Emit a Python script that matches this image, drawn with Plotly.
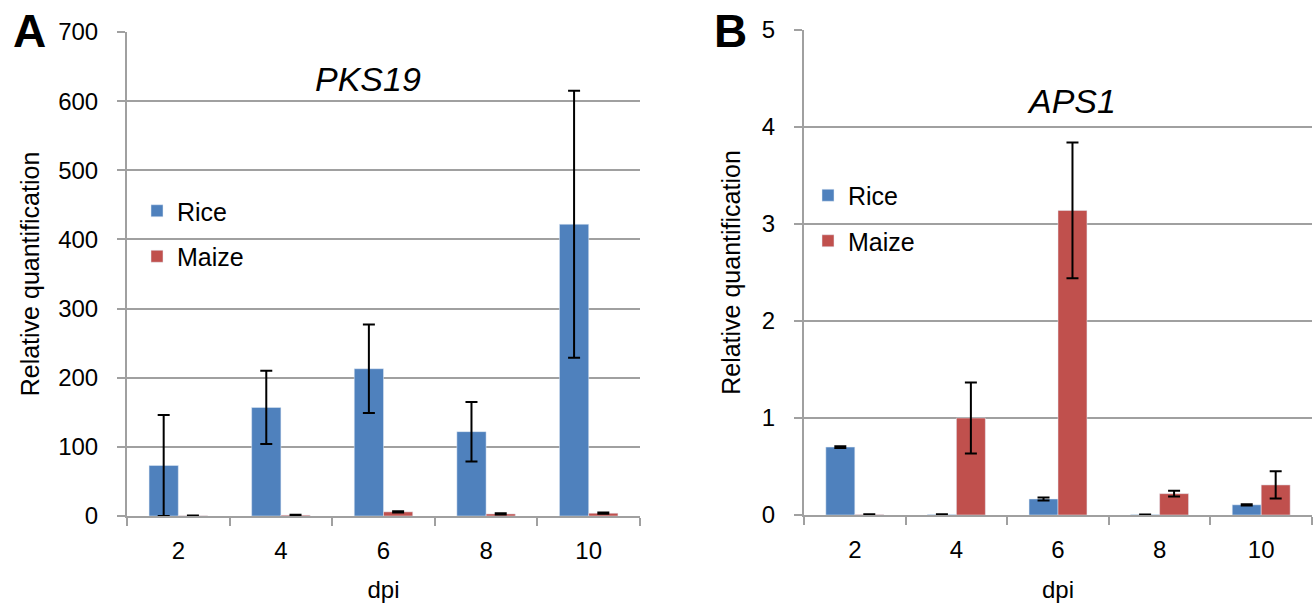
import plotly.graph_objects as go

dpi = ["2", "4", "6", "8", "10"]

# Panel A: PKS19
pks_rice = [73, 157, 213, 122, 422]
pks_rice_err = [73, 53, 64, 43, 193]
pks_maize = [0.4, 1.2, 6.0, 3.0, 4.0]
pks_maize_err = [0.3, 0.5, 1.0, 0.8, 0.9]

# Panel B: APS1
aps_rice = [0.70, 0.005, 0.165, 0.004, 0.105]
aps_rice_err = [0.008, 0.003, 0.015, 0.002, 0.006]
aps_maize = [0.005, 1.0, 3.14, 0.22, 0.31]
aps_maize_err = [0.003, 0.365, 0.70, 0.03, 0.14]

RICE = "#4F81BD"
MAIZE = "#C0504D"
GRID = "#a0a0a0"
FONT = "Arial, Liberation Sans, sans-serif"
W, H = 1314, 603

def px(x):
    return x / W

def py(y):
    return 1 - y / H

err_style = dict(type="data", thickness=2, width=6, color="black", visible=True)

fig = go.Figure()
fig.add_trace(go.Bar(x=dpi, y=pks_rice, name="Rice", marker_color=RICE,
                     error_y=dict(array=pks_rice_err, **err_style),
                     xaxis="x", yaxis="y", legend="legend", legendgroup="rA"))
fig.add_trace(go.Bar(x=dpi, y=pks_maize, name="Maize", marker_color=MAIZE,
                     error_y=dict(array=pks_maize_err, **err_style),
                     xaxis="x", yaxis="y", legend="legend", legendgroup="mA"))
fig.add_trace(go.Bar(x=dpi, y=aps_rice, name="Rice", marker_color=RICE,
                     error_y=dict(array=aps_rice_err, **err_style),
                     xaxis="x2", yaxis="y2", legend="legend2", legendgroup="rB"))
fig.add_trace(go.Bar(x=dpi, y=aps_maize, name="Maize", marker_color=MAIZE,
                     error_y=dict(array=aps_maize_err, **err_style),
                     xaxis="x2", yaxis="y2", legend="legend2", legendgroup="mB"))

def xaxis_style():
    return dict(type="category", showline=True, linecolor=GRID, linewidth=2,
                ticks="outside", tickson="boundaries", ticklen=8, tickwidth=2,
                tickcolor=GRID, showgrid=False, zeroline=False, automargin=False,
                tickfont=dict(size=24, color="black", family=FONT),
                ticklabelstandoff=12,
                title=dict(text="dpi", font=dict(size=24, color="black", family=FONT),
                           standoff=19))

def yaxis_style(standoff):
    return dict(showline=True, linecolor=GRID, linewidth=2, ticks="outside",
                ticklen=8, tickwidth=2, tickcolor=GRID, showgrid=True,
                gridcolor=GRID, gridwidth=2, zeroline=False, automargin=False,
                tickfont=dict(size=24, color="black", family=FONT),
                ticklabelstandoff=14,
                title=dict(text="Relative quantification",
                           font=dict(size=25, color="black", family=FONT),
                           standoff=standoff))

legcommon = dict(font=dict(size=25, color="black", family=FONT),
                 bgcolor="rgba(0,0,0,0)", traceorder="grouped", tracegroupgap=10,
                 itemwidth=30, itemclick=False, itemdoubleclick=False,
                 xanchor="left", yanchor="top")

fig.update_layout(
    width=W, height=H,
    margin=dict(l=0, r=0, t=0, b=0, autoexpand=False),
    paper_bgcolor="white", plot_bgcolor="white",
    barmode="group", bargap=0.43, bargroupgap=0,
    font=dict(family=FONT, color="black"),
    xaxis=dict(domain=[px(127), px(640)], anchor="y", **xaxis_style()),
    yaxis=dict(domain=[py(516), py(32)], anchor="x", range=[0, 700], dtick=100,
               **yaxis_style(11)),
    xaxis2=dict(domain=[px(804), px(1312)], anchor="y2", **xaxis_style()),
    yaxis2=dict(domain=[py(515), py(30)], anchor="x2", range=[0, 5], dtick=1,
                **yaxis_style(14)),
    legend=dict(x=px(137), y=py(188), **legcommon),
    legend2=dict(x=px(808), y=py(172.5), **legcommon),
    showlegend=True,
    annotations=[
        dict(text="<i>PKS19</i>", x=px(368), y=py(79), xref="paper", yref="paper",
             xanchor="center", yanchor="middle",
             showarrow=False, font=dict(size=34, color="black", family=FONT)),
        dict(text="<i>APS1</i>", x=px(1071), y=py(101), xref="paper", yref="paper",
             xanchor="center", yanchor="middle",
             showarrow=False, font=dict(size=34, color="black", family=FONT)),
        dict(text="<b>A</b>", x=px(29), y=py(31), xref="paper", yref="paper",
             xanchor="center", yanchor="middle",
             showarrow=False, font=dict(size=46, color="black", family=FONT)),
        dict(text="<b>B</b>", x=px(730), y=py(31), xref="paper", yref="paper",
             xanchor="center", yanchor="middle",
             showarrow=False, font=dict(size=46, color="black", family=FONT)),
    ],
)

fig.write_html("out.html")
